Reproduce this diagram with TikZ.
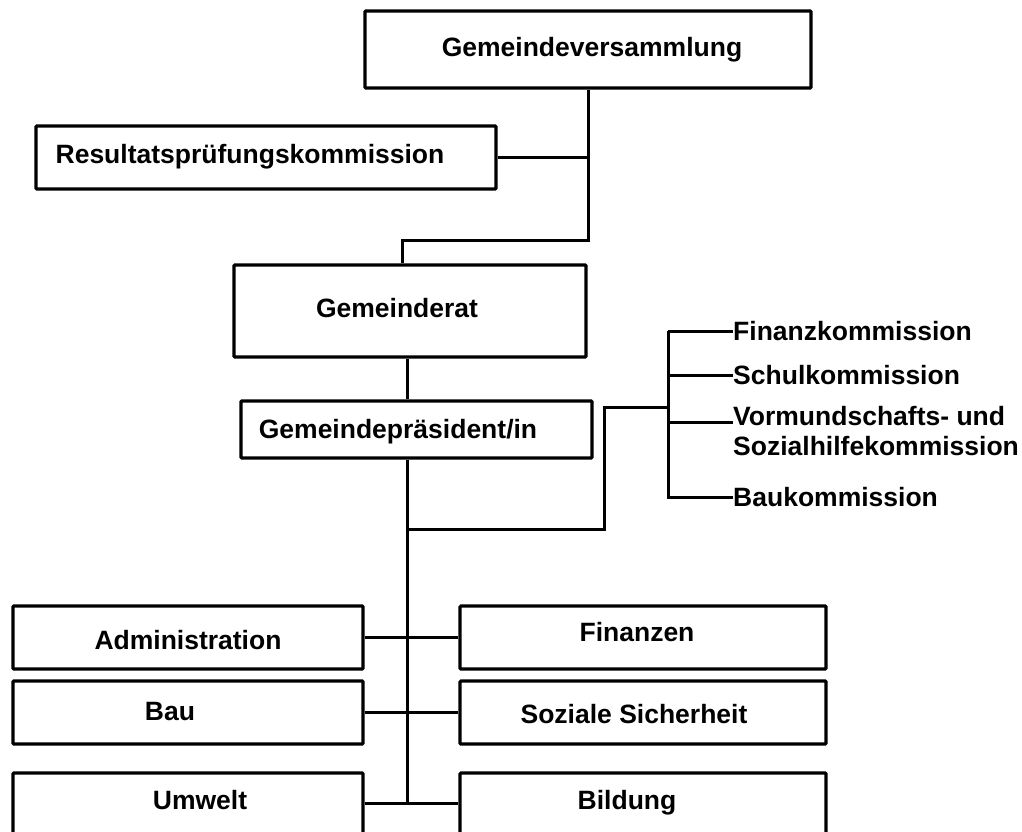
\documentclass[tikz,border=0pt]{standalone}
\usepackage{fontspec}
\setmainfont{Liberation Sans}

\begin{document}
\begin{tikzpicture}[x=1pt, y=-1pt]
\tikzset{box/.style={draw, line width=3.2pt, rounded corners=1pt, inner sep=0pt}}
\tikzset{lbl/.style={inner sep=0pt, font=\fontsize{26.5}{30}\selectfont\bfseries}}
\tikzstyle{link} = [line width=3pt]
\useasboundingbox (0,0) rectangle (1022,832);

% obere Ebene
\node[box, minimum width=446pt, minimum height=77pt] (gv) at (588,49.5) {};
\node[lbl] (gvt) at (592,50) {Gemeindeversammlung};
\node[box, minimum width=460pt, minimum height=63pt] (rpk) at (266,157.5) {};
\node[lbl] (rpkt) at (250,157) {Resultatsprüfungskommission};
\node[box, minimum width=352pt, minimum height=92pt] (gr) at (410,311) {};
\node[lbl] (grt) at (397,308) {Gemeinderat};
\node[box, minimum width=351pt, minimum height=57pt] (gp) at (416.5,429.5) {};
\node[lbl] (gpt) at (398,432) {Gemeindepräsident/in};

% Kommissionen
\node[lbl, anchor=west] (fk) at (733,331) {Finanzkommission};
\node[lbl, anchor=west] (sk) at (733,375) {Schulkommission};
\node[lbl, anchor=north west, align=left] (vk) at (733,406) {Vormundschafts- und\\Sozialhilfekommission};
\node[lbl, anchor=west] (bk) at (733,497) {Baukommission};

% Ressorts
\node[box, minimum width=350pt, minimum height=63pt] (adm) at (188,637.5) {};
\node[lbl] (admt) at (188,640) {Administration};
\node[box, minimum width=366pt, minimum height=63pt] (fin) at (643,637.5) {};
\node[lbl] (fint) at (637,632) {Finanzen};
\node[box, minimum width=350pt, minimum height=63pt] (bau) at (188,712.5) {};
\node[lbl] (baut) at (170,712) {Bau};
\node[box, minimum width=366pt, minimum height=63pt] (soz) at (643,712.5) {};
\node[lbl] (sozt) at (634,714) {Soziale Sicherheit};
\node[box, minimum width=350pt, minimum height=80pt] (umw) at (188,813) {};
\node[lbl] (umwt) at (200,800) {Umwelt};
\node[box, minimum width=366pt, minimum height=80pt] (bil) at (643,813) {};
\node[lbl] (bilt) at (627,803) {Bildung};

\coordinate (v1) at (588,240);
\coordinate (v2) at (402,240);
\coordinate (v3) at (407,529);
\coordinate (v4) at (407,803);
\coordinate (v5) at (604,529);
\coordinate (v6) at (604,407);
\coordinate (v7) at (668,407);
\coordinate (v8) at (668,331);
\coordinate (v9) at (668,499);
\coordinate (v10) at (733,422);

\draw[link] (gv.south) -- (v1) -- (v2) -- (v2 |- gr.north);
\draw[link] (rpk.east) -- (rpk.east -| v1);
\draw[link] (v3 |- gr.south) -- (v3 |- gp.north);
\draw[link] (v3 |- gp.south) -- (v4);
\draw[link] (v3) -- (v5) -- (v6) -- (v7);
\draw[link] (v8) -- (v9);
\draw[link] (v8) -- (fk.west);
\draw[link] (v8 |- sk.west) -- (sk.west);
\draw[link] (v10 -| v8) -- (v10);
\draw[link] (v9 |- bk.west) -- (bk.west);
\draw[link] (adm.east) -- (fin.west);
\draw[link] (bau.east) -- (soz.west);
\draw[link] (v4 -| umw.east) -- (v4 -| bil.west);
\end{tikzpicture}
\end{document}
